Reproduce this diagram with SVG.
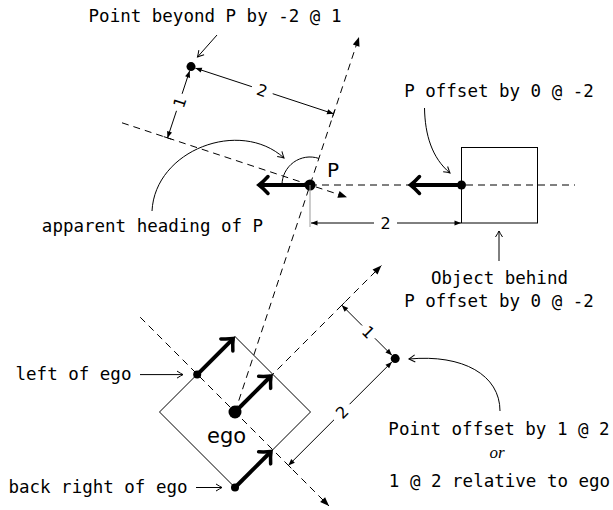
<svg xmlns="http://www.w3.org/2000/svg" width="613" height="510" viewBox="0 0 613 510">
<style>
.mono{font-family:"DejaVu Sans Mono","Liberation Mono",monospace;font-size:17.5px;fill:#000}
.sans{font-family:"DejaVu Sans","Liberation Sans",sans-serif;fill:#000}
.dash{fill:none;stroke:#000;stroke-width:1;stroke-dasharray:7 5}
.thin{fill:none;stroke:#000;stroke-width:1}
.thick{fill:none;stroke:#000;stroke-width:4}
.dim{fill:none;stroke:#000;stroke-width:1}
</style>
<defs>
<marker id="lat" markerUnits="userSpaceOnUse" orient="auto" markerWidth="1" markerHeight="1" refX="0" refY="0" style="overflow:visible">
<path d="M-9,-3.5 L0,0 L-9,3.5 Z" fill="#000"/>
</marker>
<marker id="dimA" markerUnits="userSpaceOnUse" orient="auto-start-reverse" markerWidth="1" markerHeight="1" refX="0" refY="0" style="overflow:visible">
<path d="M-6.5,-2.6 L0,0 L-6.5,2.6 Z" fill="#000"/>
</marker>
<marker id="open" markerUnits="userSpaceOnUse" orient="auto" markerWidth="1" markerHeight="1" refX="0" refY="0" style="overflow:visible">
<path d="M-6,-3.5 Q-2,-1 0,0 Q-2,1 -6,3.5" fill="none" stroke="#000" stroke-width="1"/>
</marker>
<marker id="big" markerUnits="userSpaceOnUse" orient="auto" markerWidth="1" markerHeight="1" refX="0" refY="0" style="overflow:visible">
<path d="M-9,-8.5 Q-4,-3 0,0 Q-4,3 -9,8.5" fill="none" stroke="#000" stroke-width="3.5" stroke-linecap="round"/>
</marker>
</defs>

<g id="axes">
<line class="dash" x1="235" y1="412" x2="359" y2="37" marker-end="url(#lat)"/>
<line class="dash" x1="122" y1="122.8" x2="347" y2="197.2" marker-end="url(#lat)"/>
<line class="dash" x1="310" y1="185" x2="575" y2="185"/>
<line class="dash" x1="140.2" y1="317.2" x2="329" y2="506" marker-end="url(#lat)"/>
<line class="dash" x1="235" y1="412" x2="381.4" y2="265.6" marker-end="url(#lat)"/>
</g>

<g id="ego">
<polygon points="235,336.5 310.5,412 235,487.5 159.5,412" fill="none" stroke="#000" stroke-width="1"/>
<line class="thick" x1="235" y1="412" x2="271" y2="376" marker-end="url(#big)"/>
<circle cx="235" cy="412" r="6.5" fill="#000"/>
<text class="sans" x="207" y="443" font-size="21">ego</text>
</g>

<g id="left-of-ego">
<line class="thick" x1="197.2" y1="374.6" x2="233.2" y2="338.6" marker-end="url(#big)"/>
<circle cx="197.2" cy="374.6" r="4" fill="#000"/>
</g>

<g id="back-right-of-ego">
<line class="thick" x1="235" y1="487.5" x2="271" y2="451.5" marker-end="url(#big)"/>
<circle cx="235" cy="487.5" r="4" fill="#000"/>
</g>

<g id="P">
<path class="thin" d="M282,185 A28,28 0 0 1 318.8,158.4"/>
<line class="thick" x1="310" y1="185" x2="259" y2="185" marker-end="url(#big)"/>
<circle cx="310" cy="185" r="5.5" fill="#000"/>
<text class="sans" x="327" y="177" font-size="20">P</text>
</g>

<g id="point-beyond-P">
<circle cx="191" cy="66.6" r="4.5" fill="#000"/>
</g>

<g id="P-offset">
<line class="thick" x1="461.5" y1="185" x2="410.5" y2="185" marker-end="url(#big)"/>
<circle cx="461.5" cy="185" r="4.5" fill="#000"/>
</g>

<g id="object-behind">
<rect x="461.5" y="147.5" width="76" height="75.5" fill="none" stroke="#000" stroke-width="1"/>
</g>

<g id="point-offset">
<circle cx="395.2" cy="358.6" r="4.5" fill="#000"/>
</g>

<g id="connectors">
<!-- dimension: top 1 -->
<line class="dim" x1="189.6" y1="70.9" x2="182.1" y2="93.8" marker-start="url(#dimA)"/>
<line class="dim" x1="176.5" y1="110.8" x2="167.5" y2="137.9" marker-end="url(#dimA)"/>
<line class="dim" x1="163.7" y1="136.6" x2="171.3" y2="139.2"/>
<text class="sans" font-size="16" text-anchor="middle" transform="translate(179.3,102.3) rotate(-71.7)" y="6">1</text>
<!-- dimension: top 2 -->
<line class="dim" x1="195.3" y1="68.1" x2="251.9" y2="86.7" marker-start="url(#dimA)"/>
<line class="dim" x1="272.7" y1="93.7" x2="333.55" y2="113.75" marker-end="url(#dimA)"/>
<line class="dim" x1="334.8" y1="109.9" x2="332.3" y2="117.6"/>
<text class="sans" font-size="16" text-anchor="middle" transform="translate(262.3,90.2) rotate(18.3)" y="6">2</text>
<!-- dimension: horizontal 2 -->
<line x1="310" y1="185" x2="310" y2="227" stroke="#999" stroke-width="1"/>
<line class="dim" x1="311" y1="223" x2="374" y2="223" marker-start="url(#dimA)"/>
<line class="dim" x1="397" y1="223" x2="461" y2="223" marker-end="url(#dimA)"/>
<text class="sans" font-size="16" text-anchor="middle" x="385.5" y="229">2</text>
<!-- dimension: bottom 1 -->
<line class="dim" x1="341.8" y1="305.2" x2="362.1" y2="325.5" marker-start="url(#dimA)"/>
<line class="dim" x1="374.9" y1="338.3" x2="391.9" y2="355.3" marker-end="url(#dimA)"/>
<line class="dim" x1="338.9" y1="308.1" x2="344.7" y2="302.3"/>
<text class="sans" font-size="16" text-anchor="middle" transform="translate(368.5,331.9) rotate(45)" y="6">1</text>
<!-- dimension: bottom 2 -->
<line class="dim" x1="288.4" y1="465.4" x2="334" y2="419.8" marker-start="url(#dimA)"/>
<line class="dim" x1="349.6" y1="404.2" x2="391.9" y2="361.9" marker-end="url(#dimA)"/>
<line class="dim" x1="285.5" y1="462.5" x2="291.3" y2="468.3"/>
<text class="sans" font-size="16" text-anchor="middle" transform="translate(341.8,412) rotate(-45)" y="6">2</text>
<!-- annotation arrows -->
<line class="thin" x1="217" y1="35" x2="197.5" y2="57" marker-end="url(#open)"/>
<path class="thin" d="M424.5,108 C425,135 432,158 450,173" marker-end="url(#open)"/>
<path class="thin" d="M152,211 C155,150 240,118 284,158" marker-end="url(#open)"/>
<line class="thin" x1="499" y1="261" x2="499" y2="231" marker-end="url(#open)"/>
<line class="thin" x1="140" y1="374.6" x2="183" y2="374.6" marker-end="url(#open)"/>
<line class="thin" x1="196" y1="487.5" x2="222" y2="487.5" marker-end="url(#open)"/>
<path class="thin" d="M500,411 C500,375 463,354 409,359" marker-end="url(#open)"/>
</g>

<g id="labels">
<text class="mono" x="215" y="22" text-anchor="middle">Point beyond P by -2 @ 1</text>
<text class="mono" x="499" y="97" text-anchor="middle">P offset by 0 @ -2</text>
<text class="mono" x="152.5" y="232" text-anchor="middle">apparent heading of P</text>
<text class="mono" x="499.5" y="284" text-anchor="middle">Object behind</text>
<text class="mono" x="499" y="307" text-anchor="middle">P offset by 0 @ -2</text>
<text class="mono" x="73.5" y="379.5" text-anchor="middle">left of ego</text>
<text class="mono" x="98" y="493" text-anchor="middle">back right of ego</text>
<text class="mono" x="499" y="435" text-anchor="middle">Point offset by 1 @ 2</text>
<text x="497" y="458" text-anchor="middle" font-family="'Liberation Serif',serif" font-style="italic" font-size="17">or</text>
<text class="mono" x="499.5" y="487" text-anchor="middle">1 @ 2 relative to ego</text>
</g>
</svg>
